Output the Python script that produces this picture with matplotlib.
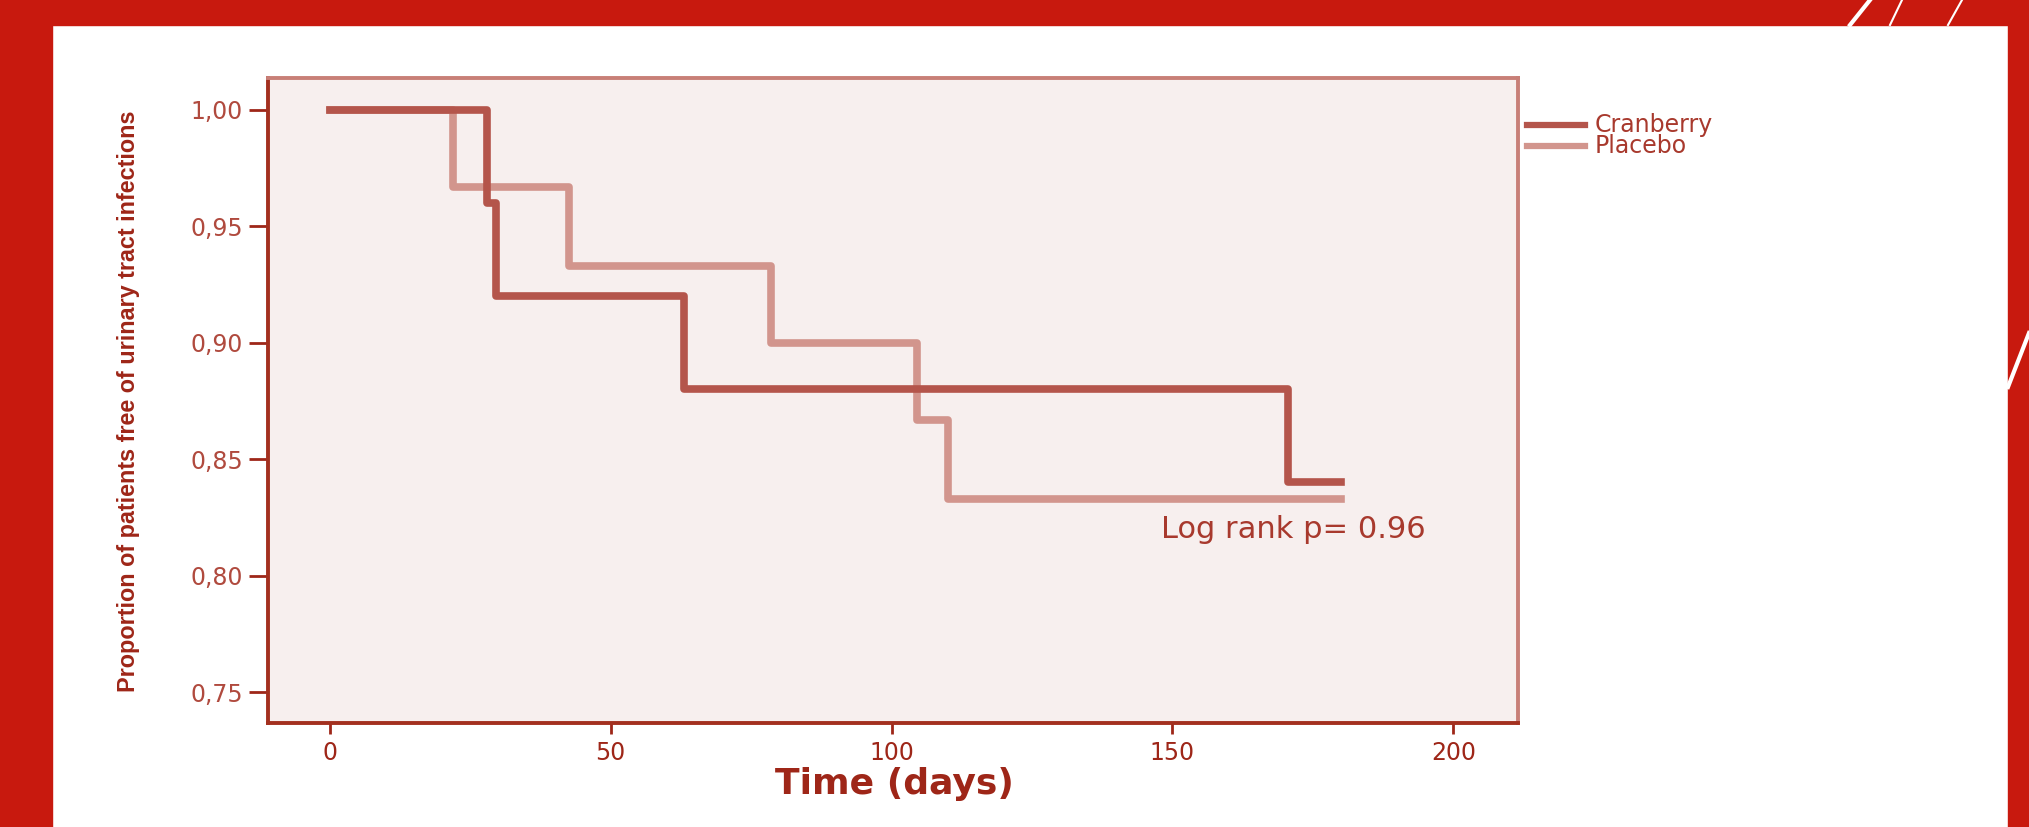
import matplotlib
matplotlib.use("Agg")
import matplotlib.pyplot as plt
from matplotlib.patches import Rectangle
from matplotlib.lines import Line2D

# Kaplan-Meier style step data
cranberry_days = [0, 28, 29.5, 63, 170.5, 180]
cranberry_surv = [1.00, 0.96, 0.92, 0.88, 0.84, 0.84]
placebo_days = [0, 22, 42.5, 78.5, 104.5, 110, 180]
placebo_surv = [1.00, 0.967, 0.933, 0.900, 0.867, 0.833, 0.833]

series_names = ["Cranberry", "Placebo"]
x_ticks = [0, 50, 100, 150, 200]
y_ticks = [1.00, 0.95, 0.90, 0.85, 0.80, 0.75]
y_tick_labels = ["1,00", "0,95", "0,90", "0,85", "0,80", "0,75"]
note = "Log rank p= 0.96"

red = "#c8190e"
dark = "#9e2618"
col_cran = "#b4554b"
col_plac = "#d2958d"

W, H = 2029, 827
fig = plt.figure(figsize=(W / 100, H / 100), dpi=100, facecolor="white")

# slide frame
fig.add_artist(Rectangle((0, 0), 52 / W, 1, transform=fig.transFigure, color=red, zorder=0))
fig.add_artist(Rectangle((0, 1 - 25 / H), 1, 25 / H, transform=fig.transFigure, color=red, zorder=0))
fig.add_artist(Rectangle((2008 / W, 0), 1 - 2008 / W, 1, transform=fig.transFigure, color=red, zorder=0))
for (x0, y0, x1, y1, lw) in [(1870, 0, 1850, 25, 3), (1902, 0, 1890, 25, 1.5),
                             (1962, 0, 1948, 25, 1.5), (2029, 333, 2008, 387, 3)]:
    fig.add_artist(Line2D([x0 / W, x1 / W], [1 - y0 / H, 1 - y1 / H],
                          transform=fig.transFigure, color="white", lw=lw, zorder=1))

ax = fig.add_axes([268 / W, 1 - 723 / H, (1518 - 268) / W, (723 - 78) / H])
ax.set_facecolor("#f7efee")

ax.step(placebo_days, placebo_surv, where="post", color=col_plac, lw=5.5, label=series_names[1], zorder=2)
ax.step(cranberry_days, cranberry_surv, where="post", color=col_cran, lw=5.5, label=series_names[0], zorder=3)

ax.set_xlim(-11, 211.5)
ax.set_ylim(0.7367, 1.0137)
ax.set_xticks(x_ticks)
ax.set_yticks(y_ticks)
ax.set_yticklabels(y_tick_labels)
ax.tick_params(axis="x", colors=dark, labelsize=17, length=8, width=2, pad=5)
ax.tick_params(axis="y", colors=dark, labelsize=17, length=14, width=2, pad=4)
for lab in ax.get_yticklabels():
    lab.set_color("#b04a3e")

for side in ["left", "bottom"]:
    ax.spines[side].set_color("#a3301f")
    ax.spines[side].set_linewidth(2.8)
for side in ["top", "right"]:
    ax.spines[side].set_color("#c87f77")
    ax.spines[side].set_linewidth(2.8)

ax.set_xlabel("Time (days)", fontsize=26, fontweight="bold", color=dark)
ax.xaxis.label.set_va("center")
ax.xaxis.set_label_coords(0.501, (723 - 784) / 645)

ax.set_ylabel("Proportion of patients free of urinary tract infections",
              family=["Liberation Sans", "DejaVu Sans"],
              fontsize=16.8, fontweight="bold", color=dark)
ax.yaxis.label.set_va("center")
ax.yaxis.set_label_coords((129 - 268) / 1250, (723 - 401) / 645)

ax.text(147.9, 0.8196, note, fontsize=22, color="#a8392d", va="center", ha="left")

# legend drawn outside the plot, to the right
ax_w, ax_h = 1250, 645
for i, (name, col) in enumerate(zip(series_names, [col_cran, col_plac])):
    yy = (723 - [125, 146][i]) / ax_h
    ax.add_line(Line2D([(1527 - 268) / ax_w, (1585 - 268) / ax_w], [yy, yy],
                       transform=ax.transAxes, color=col, lw=4.5, clip_on=False))
    ax.text((1595 - 268) / ax_w, yy, name, transform=ax.transAxes, fontsize=17,
            color="#a8392d", va="center", ha="left")

fig.savefig("out.png", dpi=100, facecolor="white")
